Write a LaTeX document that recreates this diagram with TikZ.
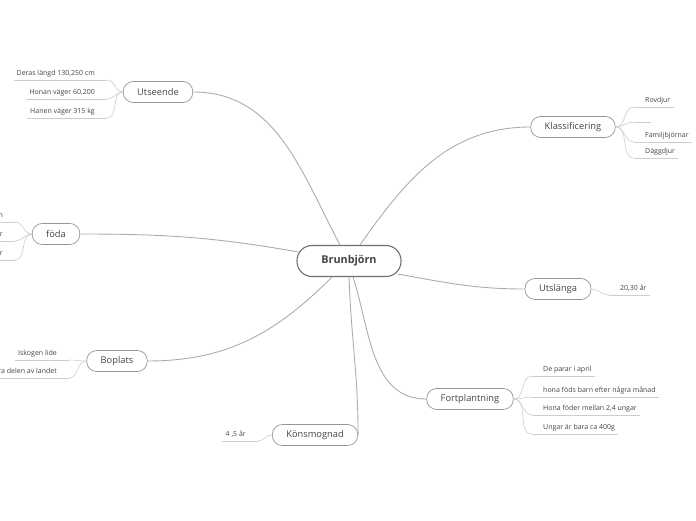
\documentclass[tikz,border=0pt]{standalone}
\usepackage{fontspec}
\setmainfont{Open Sans}
\usepackage{tikz}
\usetikzlibrary{calc, positioning}
\definecolor{textgrey}{RGB}{68,68,68}
\definecolor{framegrey}{RGB}{150,150,150}
\definecolor{rootgrey}{RGB}{112,112,112}
\definecolor{branchgrey}{RGB}{172,172,172}
\definecolor{twiggrey}{RGB}{205,205,205}

\begin{document}
\begin{tikzpicture}[
  x=1pt, y=1pt,
  root/.style={draw=rootgrey, line width=1.1pt, rounded corners=15pt,
    minimum width=104pt, minimum height=31pt, text=textgrey,
    font=\fontsize{10.8}{13}\selectfont\bfseries},
  topic/.style={draw=framegrey, line width=0.7pt, rounded corners=10pt,
    minimum height=21pt, inner xsep=14pt, text=textgrey,
    font=\fontsize{9.3}{11}\selectfont},
  twig/.style={draw=twiggrey, line width=0.6pt},
  branch/.style={draw=branchgrey, line width=0.9pt},
  leaf/.style={inner xsep=3pt, inner ysep=2.5pt, text height=5.5pt, text depth=1.5pt,
    text=textgrey, font=\fontsize{7}{8.5}\selectfont,
    append after command={(\tikzlastnode.south west) edge[twig] (\tikzlastnode.south east)}},
  leafL/.style={leaf, anchor=south east, execute at end node={\hspace{9pt}}},
  leafR/.style={leaf, anchor=south west, execute at begin node={\hspace{8pt}}},
]
\useasboundingbox (0,0) rectangle (696,520);
\clip (0,0) rectangle (696,520);

% Centre
\node[root] (root) at (349,259) {Brunbjörn};

% Topics
\node[topic] (utseende) at (158,428) {Utseende};
\node[topic] (klass)    at (573,393) {Klassificering};
\node[topic] (foda)     at (56,286)  {föda};
\node[topic] (utslanga) at (558,231) {Utslänga};
\node[topic] (boplats)  at (117,159) {Boplats};
\node[topic] (fort)     at (470,121) {Fortplantning};
\node[topic] (kons)     at (315,85)  {Könsmognad};

% Topic: Utseende
\node[leafL] (ut1) at (107,440) {Deras längd 130,250 cm};
\node[leafL] (ut2) at (107,421) {Honan väger 60,200};
\node[leafL] (ut3) at (107,402) {Hanen väger 315 kg};

% Topic: föda (cut by the page edge)
\node[leafL] (fo1) at (15,298) {n};
\node[leafL] (fo2) at (15,279) {r};
\node[leafL] (fo3) at (15,260) {r};

% Topic: Boplats
\node[leafL] (bo1) at (69,160) {Iskogen lide};
\node[leafL] (bo2) at (69,142) {ra delen av landet};

% Topic: Klassificering
\node[leafR] (kl1) at (634,413) {Rovdjur};
\node[leafR, minimum width=17pt] (kl2) at (634,398) {};
\node[leafR] (kl3) at (634,378) {Familjbjörnar};
\node[leafR] (kl4) at (634,362) {Däggdjur};

% Topic: Utslänga
\node[leafR] (us1) at (609,225) {20,30 år};

% Topic: Fortplantning
\node[leafR] (fp1) at (532,144) {De parar i april};
\node[leafR] (fp2) at (532,123) {hona föds barn efter några månad};
\node[leafR] (fp3) at (532,105) {Hona föder mellan 2,4 ungar};
\node[leafR] (fp4) at (532,86)  {Ungar är bara ca 400g};

% Topic: Könsmognad
\node[leafL] (ko1) at (258,79) {4 ,5 år};

% Branches
\draw[branch] (utseende.east) to[out=0,in=118] ([xshift=-9pt]root.north);
\draw[branch] (klass.west) to[out=180,in=55] ([xshift=11pt]root.north);
\draw[branch] (foda.east) to[out=0,in=170] ([xshift=2pt,yshift=9pt]root.west);
\draw[branch] (utslanga.west) to[out=180,in=-10] ([xshift=-4pt,yshift=3pt]root.south east);
\draw[branch] (boplats.east) to[out=0,in=-135] ([xshift=-17pt]root.south);
\draw[branch] (fort.west) to[out=180,in=-72] ([xshift=4pt]root.south);
\draw[branch] (kons.east) to[out=90,in=-88] (root.south);

% Twigs
\draw[twig] (utseende.west) to[out=180,in=0] (ut1.south east);
\draw[twig] (utseende.west) to[out=180,in=0] (ut2.south east);
\draw[twig] (utseende.west) to[out=180,in=0] (ut3.south east);
\draw[twig] (foda.west) to[out=180,in=0] (fo1.south east);
\draw[twig] (foda.west) to[out=180,in=0] (fo2.south east);
\draw[twig] (foda.west) to[out=180,in=0] (fo3.south east);
\draw[twig] (boplats.west) to[out=180,in=0] (bo1.south east);
\draw[twig] (boplats.west) to[out=180,in=0] (bo2.south east);
\draw[twig] (klass.east) to[out=0,in=180] (kl1.south west);
\draw[twig] (klass.east) to[out=0,in=180] (kl2.south west);
\draw[twig] (klass.east) to[out=0,in=180] (kl3.south west);
\draw[twig] (klass.east) to[out=0,in=180] (kl4.south west);
\draw[twig] (utslanga.east) to[out=0,in=180] (us1.south west);
\draw[twig] (fort.east) to[out=0,in=180] (fp1.south west);
\draw[twig] (fort.east) to[out=0,in=180] (fp2.south west);
\draw[twig] (fort.east) to[out=0,in=180] (fp3.south west);
\draw[twig] (fort.east) to[out=0,in=180] (fp4.south west);
\draw[twig] (kons.west) to[out=180,in=0] (ko1.south east);

\end{tikzpicture}
\end{document}
